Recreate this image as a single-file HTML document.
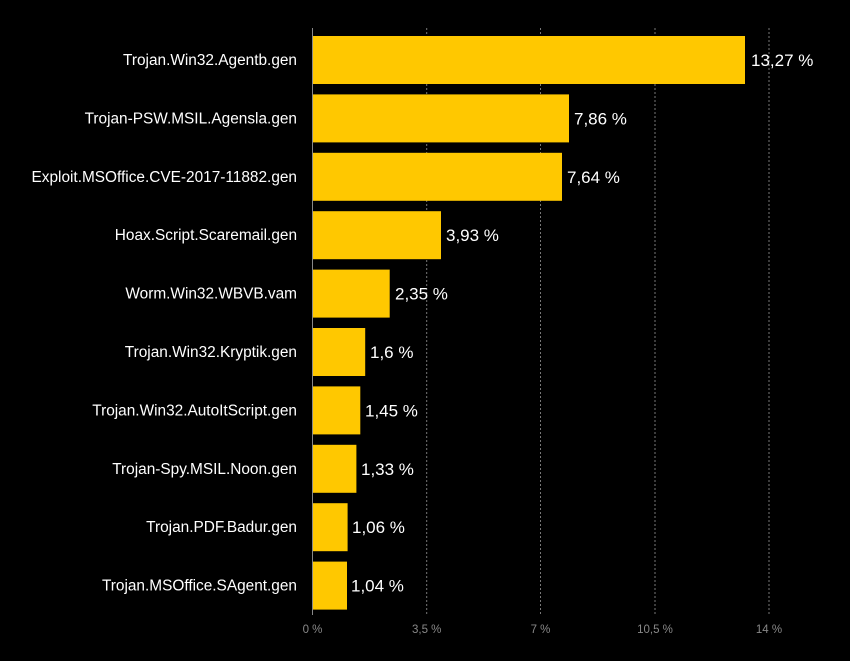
<!DOCTYPE html>
<html><head><meta charset="utf-8"><style>
html,body{margin:0;padding:0;background:#000;}
svg{display:block;font-family:"Liberation Sans",sans-serif;}
</style></head><body>
<svg width="850" height="661" viewBox="0 0 850 661">
<rect width="850" height="661" fill="#000"/>
<g stroke="#777" stroke-width="1" stroke-dasharray="2,2">
<line x1="426.7" y1="28" x2="426.7" y2="615"/>
<line x1="540.5" y1="28" x2="540.5" y2="615"/>
<line x1="655" y1="28" x2="655" y2="615"/>
<line x1="769" y1="28" x2="769" y2="615"/>
</g>
<line x1="312.5" y1="28" x2="312.5" y2="615" stroke="#888" stroke-width="1"/>
<g fill="#ffc800">
<rect x="313" y="36" width="432" height="48"/>
<rect x="313" y="94.4" width="256" height="48"/>
<rect x="313" y="152.8" width="249" height="48"/>
<rect x="313" y="211.2" width="128" height="48"/>
<rect x="313" y="269.6" width="76.7" height="48"/>
<rect x="313" y="328" width="52.2" height="48"/>
<rect x="313" y="386.4" width="47.3" height="48"/>
<rect x="313" y="444.8" width="43.4" height="48"/>
<rect x="313" y="503.2" width="34.6" height="48"/>
<rect x="313" y="561.6" width="34" height="48"/>
</g>
<g fill="#fff" font-size="15.4" text-anchor="end">
<text x="297" y="65">Trojan.Win32.Agentb.gen</text>
<text x="297" y="123.4">Trojan-PSW.MSIL.Agensla.gen</text>
<text x="297" y="181.8">Exploit.MSOffice.CVE-2017-11882.gen</text>
<text x="297" y="240.2">Hoax.Script.Scaremail.gen</text>
<text x="297" y="298.6">Worm.Win32.WBVB.vam</text>
<text x="297" y="357">Trojan.Win32.Kryptik.gen</text>
<text x="297" y="415.4">Trojan.Win32.AutoItScript.gen</text>
<text x="297" y="473.8">Trojan-Spy.MSIL.Noon.gen</text>
<text x="297" y="532.2">Trojan.PDF.Badur.gen</text>
<text x="297" y="590.6">Trojan.MSOffice.SAgent.gen</text>
</g>
<g fill="#fff" font-size="17">
<text x="751" y="66">13,27 %</text>
<text x="574" y="124.4">7,86 %</text>
<text x="567" y="182.8">7,64 %</text>
<text x="446" y="241.2">3,93 %</text>
<text x="395" y="299.6">2,35 %</text>
<text x="370" y="358">1,6 %</text>
<text x="365" y="416.4">1,45 %</text>
<text x="361" y="474.8">1,33 %</text>
<text x="352" y="533.2">1,06 %</text>
<text x="351" y="591.6">1,04 %</text>
</g>
<g fill="#888" font-size="11.5" text-anchor="middle">
<text x="312.5" y="633">0 %</text>
<text x="426.7" y="633">3,5 %</text>
<text x="540.5" y="633">7 %</text>
<text x="655" y="633">10,5 %</text>
<text x="769" y="633">14 %</text>
</g>
</svg>
</body></html>
